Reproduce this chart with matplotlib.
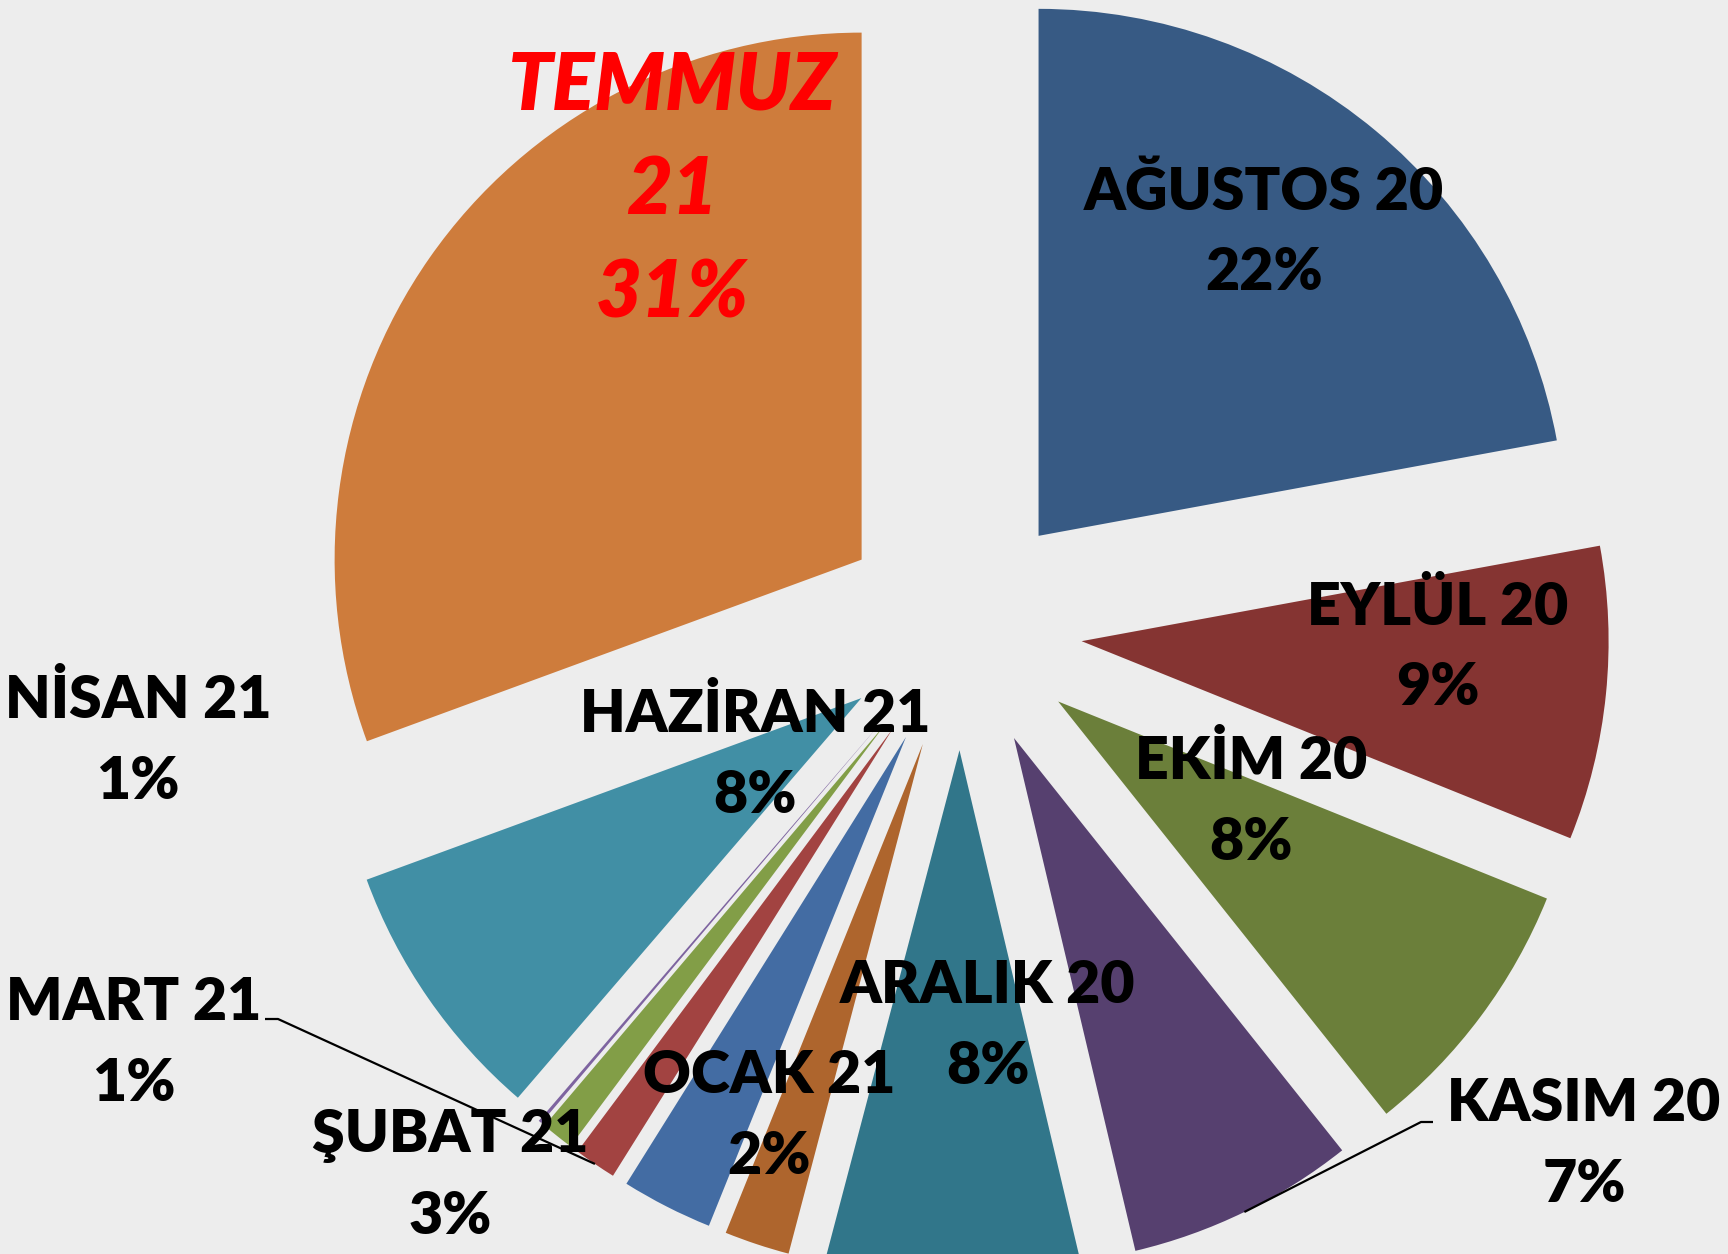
import numpy as np
import matplotlib.pyplot as plt

# aylara gore dagilim (yuzde)
months = ["AĞUSTOS 20", "EYLÜL 20", "EKİM 20", "KASIM 20", "ARALIK 20", "OCAK 21",
          "ŞUBAT 21", "MART 21", "NİSAN 21", "MAYIS 21", "HAZİRAN 21", "TEMMUZ 21"]
values = [22.1, 9.0, 8.2, 7.0, 7.8, 2.0, 2.8, 1.3, 1.0, 0.1, 8.1, 30.6]
colors = ["#375A84", "#853432", "#6B7F3A", "#56406F", "#31768A", "#AE652D",
          "#436CA3", "#A24341", "#829E47", "#7E64A0", "#418FA5", "#CE7C3C"]

W, H = 1728, 1254
CX, CY, R = 961, 629, 527   # pie centre / radius in pixels
EXPL = 0.23


def px(x, y):
    # pixel (from top-left) -> data coords
    return (x - CX) / R, (CY - y) / R


# label centres in pixels
label_pos = {
    "AĞUSTOS 20": (1264, 232), "EYLÜL 20": (1438, 647), "EKİM 20": (1251, 801),
    "KASIM 20": (1584, 1144), "ARALIK 20": (988, 1026), "OCAK 21": (769, 1116),
    "ŞUBAT 21": (450, 1176), "MART 21": (134, 1043), "NİSAN 21": (138, 740),
    "MAYIS 21": (500, 1300), "HAZİRAN 21": (755, 754), "TEMMUZ 21": (672, 191),
}
# leader lines (pixels): (end at text, knee)
leaders = {
    "KASIM 20": ((1433, 1122), (1421, 1122)),
    "MART 21": ((265, 1019), (278, 1019)),
}

fig = plt.figure(figsize=(W / 100, H / 100), dpi=100)
fig.patch.set_facecolor("#EDEDED")
ax = fig.add_axes([0, 0, 1, 1])
ax.set_facecolor("#EDEDED")

wedges, _ = ax.pie(values, colors=colors, startangle=90, counterclock=False,
                   explode=[EXPL] * len(values), radius=1, center=(0, 0),
                   wedgeprops=dict(linewidth=0), frame=True)

ax.set_xlim(-CX / R, (W - CX) / R)
ax.set_ylim(-(H - CY) / R, CY / R)
ax.set_aspect("auto")
ax.axis("off")

fam = ["Lato", "DejaVu Sans"]
for name, v, w in zip(months, values, wedges):
    pct = "{:.0f}%".format(v)
    x, y = px(*label_pos[name])
    if name.startswith("TEMMUZ"):
        a, b = name.split()
        ax.text(x, y, a + "\n" + b + "\n" + pct, ha="center", va="center",
                fontsize=57, fontweight="heavy", fontstyle="italic", color="#FF0000",
                family=fam, linespacing=1.5)
        continue
    if name.startswith("MAYIS"):
        # label sits below the picture, only its very top shows
        ax.text(x, px(0, 1258)[1], name + "\n" + pct, ha="center", va="top",
                fontsize=42.5, fontweight="heavy", color="#7E64A0", family=fam,
                linespacing=1.62)
        continue
    ax.text(x, y, name + "\n" + pct, ha="center", va="center", fontsize=42.5,
            fontweight="heavy", color="black", family=fam, linespacing=1.62)
    if name in leaders:
        th = np.deg2rad((w.theta1 + w.theta2) / 2)
        ax0 = w.center[0] + np.cos(th) * w.r
        ay0 = w.center[1] + np.sin(th) * w.r
        (ex, ey), (kx, ky) = leaders[name]
        e = px(ex, ey)
        k = px(kx, ky)
        ax.plot([ax0, k[0], e[0]], [ay0, k[1], e[1]], color="black", lw=1.6,
                solid_capstyle="butt")

fig.savefig("out.png", dpi=100, facecolor=fig.get_facecolor())
